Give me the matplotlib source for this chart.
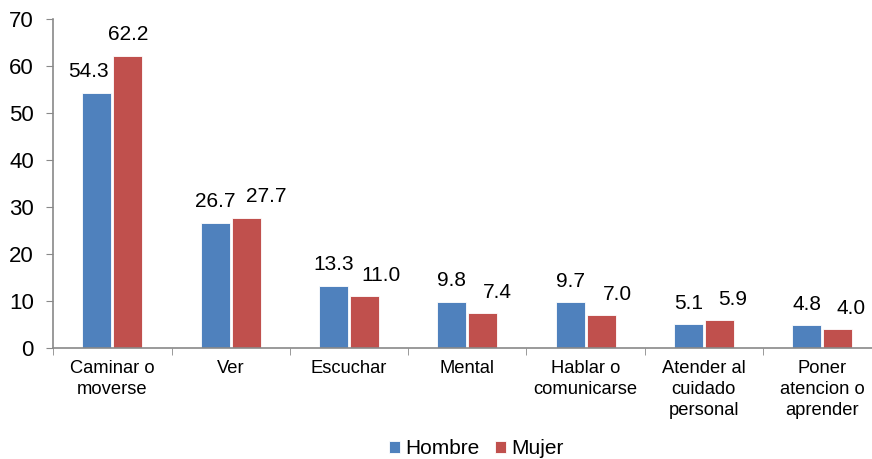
import matplotlib
matplotlib.use("Agg")
import matplotlib.pyplot as plt
import numpy as np

plt.rcParams['font.family'] = ['Liberation Sans', 'DejaVu Sans']

categories = ["Caminar o\nmoverse", "Ver", "Escuchar", "Mental", "Hablar o\ncomunicarse",
              "Atender al\ncuidado\npersonal", "Poner\natencion o\naprender"]
hombre = [54.3, 26.7, 13.3, 9.8, 9.7, 5.1, 4.8]
mujer = [62.2, 27.7, 11.0, 7.4, 7.0, 5.9, 4.0]

# horizontal nudges of the value labels (pixels), as placed in the original
hombre_nudge = [-8, 0, 0, 0, 0, 0, 0]
mujer_nudge = [0, 20, 16, 15, 16, 13, 13]

blue = '#4F81BD'
red = '#C0504D'
grey = '#898989'

fig = plt.figure(figsize=(8.72, 4.59), dpi=100)
ax = fig.add_axes([0.0611, 0.2418, 0.9496, 0.7168])

x = np.arange(len(categories))
w = 0.245
off = w / 2 + 0.009
ax.bar(x - off, hombre, w, color=blue, edgecolor='white', linewidth=0.6, label='Hombre')
ax.bar(x + off, mujer, w, color=red, edgecolor='white', linewidth=0.6, label='Mujer')

px = 72 / 100
for xi, h, m, hn, mn in zip(x, hombre, mujer, hombre_nudge, mujer_nudge):
    ax.annotate(f"{h:.1f}", (xi - off, h), xytext=(hn * px, 15.5 * px), textcoords='offset points',
                ha='center', va='baseline', fontsize=15)
    ax.annotate(f"{m:.1f}", (xi + off, m), xytext=(mn * px, 15.5 * px), textcoords='offset points',
                ha='center', va='baseline', fontsize=15)

ax.set_xlim(-0.5, len(categories) - 0.5)
ax.set_ylim(0, 70)
ax.set_yticks(range(0, 71, 10))
ax.set_xticks(x)
ax.set_xticklabels(categories, fontsize=13.2, linespacing=1.32)
ax.set_xticks(np.arange(-0.5, len(categories)), minor=True)
ax.tick_params(axis='x', which='major', length=0, pad=8.5)
ax.tick_params(axis='x', which='minor', length=5, color=grey, direction='out')
ax.tick_params(axis='y', length=5, color=grey, labelsize=16, pad=9)

for s in ['top', 'right']:
    ax.spines[s].set_visible(False)
for s in ['left', 'bottom']:
    ax.spines[s].set_color(grey)
    ax.spines[s].set_linewidth(1.2)

fig.legend(loc='center', bbox_to_anchor=(0.546, 0.022), ncol=2, frameon=False,
           fontsize=15, handlelength=0.52, handleheight=0.52, handletextpad=0.25,
           columnspacing=0.75, borderpad=0, borderaxespad=0)

fig.savefig('out.png', dpi=100)
